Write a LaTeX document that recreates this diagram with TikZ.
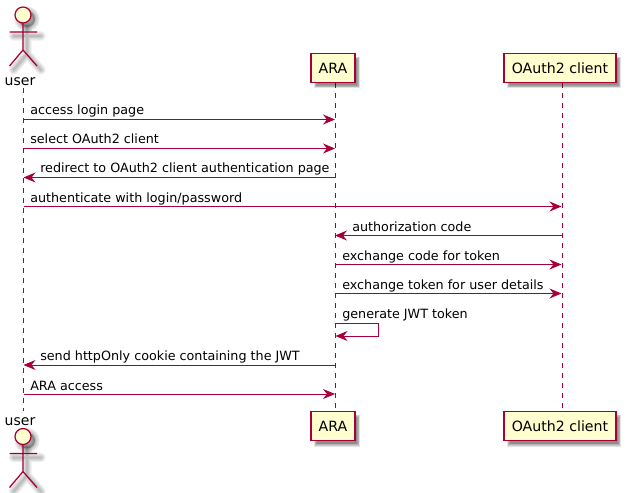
\documentclass[tikz,border=0pt]{standalone}
\usepackage{fontspec}
\setmainfont{DejaVu Sans}
\usetikzlibrary{arrows.meta}
\definecolor{pline}{HTML}{A80036}
\definecolor{pfill}{HTML}{FEFECE}
\tikzset{
  x=0.75pt,y=-0.75pt,
  lifeline/.style={draw=pline,line width=0.7pt,dash pattern=on 3.75pt off 3.75pt},
  msg/.style={draw=pline,line width=0.75pt,-{Stealth[length=9pt,width=7.5pt,inset=3pt,color=pline]}},
  msgtext/.style={anchor=base west,inner sep=0pt,font=\fontsize{9.55pt}{12pt}\selectfont,text=black},
  part/.style={draw=pline,fill=pfill,line width=0.95pt,inner sep=0pt,font=\fontsize{10.6pt}{12pt}\selectfont,text=black},
  actortext/.style={anchor=base,inner sep=0pt,font=\fontsize{10.5pt}{12pt}\selectfont,text=black},
  actorline/.style={draw=pline,line width=0.95pt},
  actorhead/.style={draw=pline,fill=pfill,line width=0.95pt},
  soft/.style={draw=black,line width=#1,line cap=round,opacity=0.07},
}
\newcommand{\boxshadow}[4]{%
  \foreach \g in {-1,-0.3,0.4,1.1,1.8}{\fill[black,opacity=0.11] (#1+4+\g,#2+4+\g) rectangle (#3+4-\g,#4+4-\g);}}
\newcommand{\actorfig}[1]{%
  \begin{scope}[shift={(4,4)}]
    \foreach \w in {7pt,5pt,3pt,1.5pt}{
      \draw[soft=\w] (23,#1+8) -- (23,#1+35) (9.5,#1+17) -- (37,#1+17) (23,#1+35) -- (9.5,#1+51) (23,#1+35) -- (37,#1+51);
      \draw[soft=\w] (23,#1) circle[radius=8];}
    \fill[black,opacity=.3] (23,#1) circle[radius=8];
  \end{scope}
  \draw[actorline] (23,#1+8) -- (23,#1+35) (9.5,#1+17) -- (37,#1+17) (23,#1+35) -- (9.5,#1+51) (23,#1+35) -- (37,#1+51);
  \draw[actorhead] (23,#1) circle[radius=8];}
\begin{document}
\begin{tikzpicture}
\useasboundingbox (0,0) rectangle (629,493);
\fill[white] (0,0) rectangle (629,493);

% lifeline ends
\coordinate (ut) at (23.5,88);
\coordinate (ub) at (23.5,411);
\coordinate (at) at (335.5,83);
\coordinate (ab) at (335.5,411);
\coordinate (ot) at (562,83);
\coordinate (ob) at (562,411);
\draw[lifeline] (ut) -- (ub);
\draw[lifeline] (at) -- (ab);
\draw[lifeline] (ot) -- (ob);

% participants
\boxshadow{311}{53.5}{355}{83}
\boxshadow{504}{53.5}{616}{83}
\boxshadow{311}{411.5}{355}{441.5}
\boxshadow{504}{411.5}{616}{441.5}
\node[part,minimum width=33pt,minimum height=22pt] (ara1) at (333,68) {ARA};
\node[part,minimum width=84pt,minimum height=22pt] (oa1) at (560,68) {OAuth2 client};
\node[part,minimum width=33pt,minimum height=22pt] (ara2) at (333,426) {ARA};
\node[part,minimum width=84pt,minimum height=22pt] (oa2) at (560,426) {OAuth2 client};

% actors
\actorfig{15}
\actorfig{436.5}
\node[actortext] (user1) at (20,85) {user};
\node[actortext] (user2) at (20,425) {user};

% message anchors
\foreach \n/\y in {1/119.5,2/148.5,3/177.5,4/206.5,5/235.5,6/264.5,7/293.5,9/365,10/394}{
  \coordinate (u\n) at (23.5,\y);
  \coordinate (a\n) at (335,\y);
  \coordinate (o\n) at (561.5,\y);
}
\coordinate (s1) at (335.5,323);
\coordinate (s2) at (378,323);
\coordinate (s3) at (378,336);
\coordinate (s4) at (335.5,336);

\draw[msg] (u1) -- (a1);
\draw[msg] (u2) -- (a2);
\draw[msg] (a3) -- (u3);
\draw[msg] (u4) -- (o4);
\draw[msg] (o5) -- (a5);
\draw[msg] (a6) -- (o6);
\draw[msg] (a7) -- (o7);
\draw[msg] (s1) -- (s2) -- (s3) -- (s4);
\draw[msg] (a9) -- (u9);
\draw[msg] (u10) -- (a10);

\node[msgtext] (t1) at (30,114) {access login page};
\node[msgtext] (t2) at (30,143) {select OAuth2 client};
\node[msgtext] (t3) at (40,172) {redirect to OAuth2 client authentication page};
\node[msgtext] (t4) at (30,202) {authenticate with login/password};
\node[msgtext] (t5) at (352,231) {authorization code};
\node[msgtext] (t6) at (342,260) {exchange code for token};
\node[msgtext] (t7) at (342,289) {exchange token for user details};
\node[msgtext] (t8) at (342,318) {generate JWT token};
\node[msgtext] (t9) at (40,360) {send httpOnly cookie containing the JWT};
\node[msgtext] (t10) at (30,390) {ARA access};
\end{tikzpicture}
\end{document}
